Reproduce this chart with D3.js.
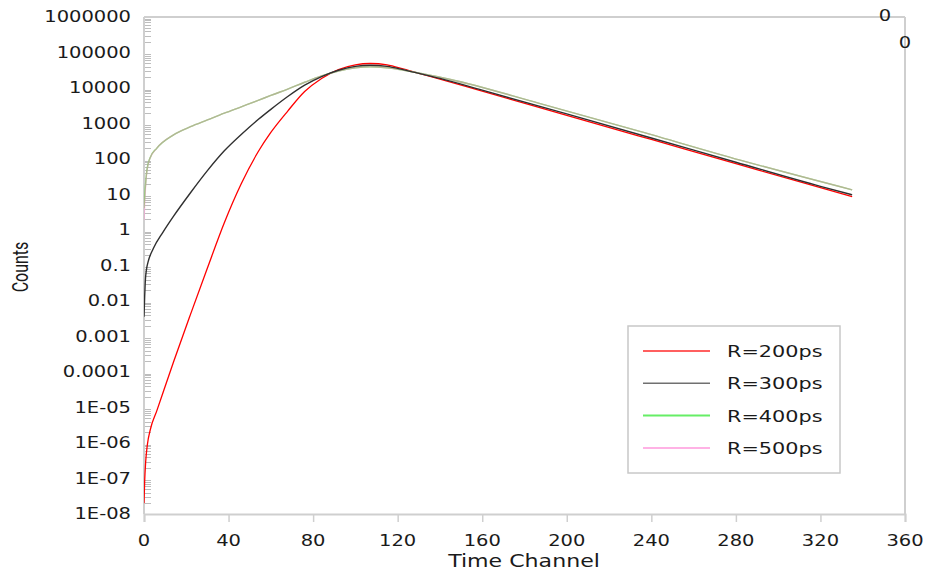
<!DOCTYPE html>
<html>
<head>
<meta charset="utf-8">
<script src="https://cdn.jsdelivr.net/npm/d3@7/dist/d3.min.js"></script>
<style>
  html, body { margin: 0; padding: 0; background: #ffffff; }
  svg { display: block; }
</style>
</head>
<body>
<svg id="chart" width="925" height="573"></svg>
<script>
// Simulated decay curves for four instrument resolutions
const seriesNames = ["R=200ps", "R=300ps", "R=400ps", "R=500ps"];
const seriesColors = ["#ff0000", "#303030", "#66dd55", "#ff8fd2"];
const legendColors = ["#ff2a2a", "#707070", "#66ee66", "#ff99dd"];

const chR200 = [0, 0.3, 0.8, 1.6, 3, 6, 14, 22, 30, 38, 46, 54, 60, 68, 76, 84, 92, 100, 107, 115, 123, 131, 140, 160, 200, 240, 280, 320, 335];
const valR200 = [2.0e-8, 8e-8, 3e-7, 9e-7, 2.4e-6, 7.9e-6, 1.95e-4, 4.2e-3, 0.085, 1.6, 20, 160, 560, 2240, 7940, 18600, 33000, 45000, 49000, 45000, 34000, 25000, 17800, 8100, 1700, 355, 74, 15.5, 8.7];

const chR300 = [0, 0.3, 0.6, 1.2, 2, 4.4, 9, 14, 22, 30, 38, 46, 54, 60, 68, 76, 84, 92, 100, 107, 115, 123, 131, 140, 160, 200, 240, 280, 320, 335];
const valR300 = [0.0036, 0.0126, 0.035, 0.079, 0.13, 0.30, 0.87, 2.45, 11.2, 47, 170, 490, 1290, 2500, 5750, 12000, 21000, 31600, 40700, 43600, 40700, 32400, 25000, 18600, 8700, 1860, 390, 81, 17, 9.8];

const chR400 = [0, 0.5, 1.3, 2.8, 6, 14, 22, 30, 38, 46, 54, 60, 68, 76, 84, 92, 100, 107, 115, 123, 131, 145, 187, 235, 282, 335];
const valR400 = [4.2, 12.6, 44, 105, 200, 480, 813, 1260, 1950, 2950, 4470, 6170, 9330, 14500, 21900, 30200, 37200, 39800, 37200, 31600, 25700, 17400, 3700, 590, 93, 13.5];

const chR500 = [0, 0.5, 1.3, 2.8, 6, 14, 22, 30, 38, 46, 54, 60, 68, 76, 84, 92, 100, 107, 115, 123, 131, 145, 187, 235, 282, 335];
const valR500 = [1.9, 9.0, 42, 104, 200, 480, 813, 1260, 1950, 2950, 4470, 6170, 9330, 14500, 21900, 30200, 37200, 39800, 37200, 31600, 25700, 17400, 3700, 590, 93, 13.5];

const xTicks = [0, 40, 80, 120, 160, 200, 240, 280, 320, 360];
const yTicks = [1e6, 1e5, 1e4, 1e3, 1e2, 1e1, 1, 0.1, 0.01, 0.001, 0.0001, 1e-5, 1e-6, 1e-7, 1e-8];
const yTickLabels = ["1000000", "100000", "10000", "1000", "100", "10", "1", "0.1", "0.01", "0.001", "0.0001", "1E-05", "1E-06", "1E-07", "1E-08"];

const channels = [chR200, chR300, chR400, chR500];
const values = [valR200, valR300, valR400, valR500];

const svg = d3.select("#chart");
const plot = { left: 144, right: 905, top: 17, bottom: 514 };
const SX = 1.3;            // horizontal stretch of the lettering
const labelFont = "'DejaVu Sans', Verdana, sans-serif";
const axisColor = "#cfcfcf";

const x = d3.scaleLinear().domain([0, 360]).range([plot.left, plot.right]);
const y = d3.scaleLog().domain([1e-8, 1e6]).range([plot.bottom, plot.top]);

function stretchedText(g, px, py, str, size, anchor, family) {
  return g.append("text")
    .attr("transform", `translate(${px},${py}) scale(${SX},1)`)
    .attr("text-anchor", anchor)
    .attr("font-family", family || labelFont)
    .attr("font-size", size)
    .attr("fill", "#1a1a1a")
    .text(str);
}

// minor ticks on the log axis (drawn inside the plot)
const minorTicks = [];
for (let e = -8; e < 6; e++) {
  for (let m = 2; m <= 9; m++) minorTicks.push(m * Math.pow(10, e));
}
svg.append("g").selectAll("line").data(minorTicks).join("line")
  .attr("x1", plot.left).attr("x2", plot.left + 7)
  .attr("y1", d => Math.round(y(d)) + 0.5).attr("y2", d => Math.round(y(d)) + 0.5)
  .attr("stroke", "#bdbdbd").attr("stroke-width", 1);

// plot frame: axis lines plus the top and right edges
const frame = svg.append("g").attr("fill", "none").attr("stroke", axisColor).attr("stroke-width", 2);
frame.append("line").attr("x1", plot.left).attr("x2", plot.right).attr("y1", plot.top).attr("y2", plot.top);
frame.append("line").attr("x1", plot.right).attr("x2", plot.right).attr("y1", plot.top).attr("y2", plot.bottom);
frame.append("line").attr("x1", plot.left).attr("x2", plot.left).attr("y1", plot.top).attr("y2", plot.bottom);

// x axis with downward ticks
const xAxis = d3.axisBottom(x).tickValues(xTicks).tickSize(8).tickFormat("");
const xg = svg.append("g").attr("transform", `translate(0,${plot.bottom})`).call(xAxis);
xg.select(".domain").attr("stroke", axisColor).attr("stroke-width", 2);
xg.selectAll(".tick line").attr("stroke", axisColor).attr("stroke-width", 1.5);

const labels = svg.append("g");
xTicks.forEach(t => stretchedText(labels, x(t), 546, String(t), 15, "middle"));
yTicks.forEach((t, i) => stretchedText(labels, 131, y(t) + 5, yTickLabels[i], 15, "end"));

// stray zero labels on the top and right edges
stretchedText(labels, 885, 21, "0", 15, "middle");
stretchedText(labels, 905, 48, "0", 15, "middle");

// axis titles
stretchedText(labels, 524, 567, "Time Channel", 17, "middle");
labels.append("text")
  .attr("transform", `translate(28,267) scale(1.4,1) rotate(-90)`)
  .attr("text-anchor", "middle")
  .attr("font-family", "Roboto, 'Open Sans', sans-serif")
  .attr("font-size", 16)
  .attr("fill", "#1a1a1a")
  .text("Counts");

// curves
svg.append("clipPath").attr("id", "plotClip").append("rect")
  .attr("x", plot.left).attr("y", plot.top - 2)
  .attr("width", plot.right - plot.left).attr("height", plot.bottom - plot.top + 2);

const line = d3.line()
  .x(d => x(d[0]))
  .y(d => y(d[1]))
  .curve(d3.curveMonotoneX);

const curves = svg.append("g").attr("clip-path", "url(#plotClip)").attr("fill", "none");
const widths = [1.3, 1.4, 1.4, 1.4];
const opac = [1, 1, 1, 0.5];
[0, 2, 3, 1].forEach(i => {
  const pts = channels[i].map((c, k) => [c, values[i][k]]);
  curves.append("path")
    .attr("d", line(pts))
    .attr("stroke", seriesColors[i])
    .attr("stroke-width", widths[i])
    .attr("stroke-opacity", opac[i]);
});

// legend
const lg = svg.append("g");
lg.append("rect").attr("x", 628).attr("y", 326).attr("width", 212).attr("height", 147)
  .attr("fill", "#ffffff").attr("stroke", "#c8c8c8").attr("stroke-width", 1.5);
seriesNames.forEach((name, i) => {
  const ly = 351 + i * 32.3;
  lg.append("line").attr("x1", 643).attr("x2", 710).attr("y1", ly).attr("y2", ly)
    .attr("stroke", legendColors[i]).attr("stroke-width", i === 2 ? 2 : 1.5);
  stretchedText(lg, 727, ly + 6, name, 16, "start");
});
</script>
</body>
</html>
